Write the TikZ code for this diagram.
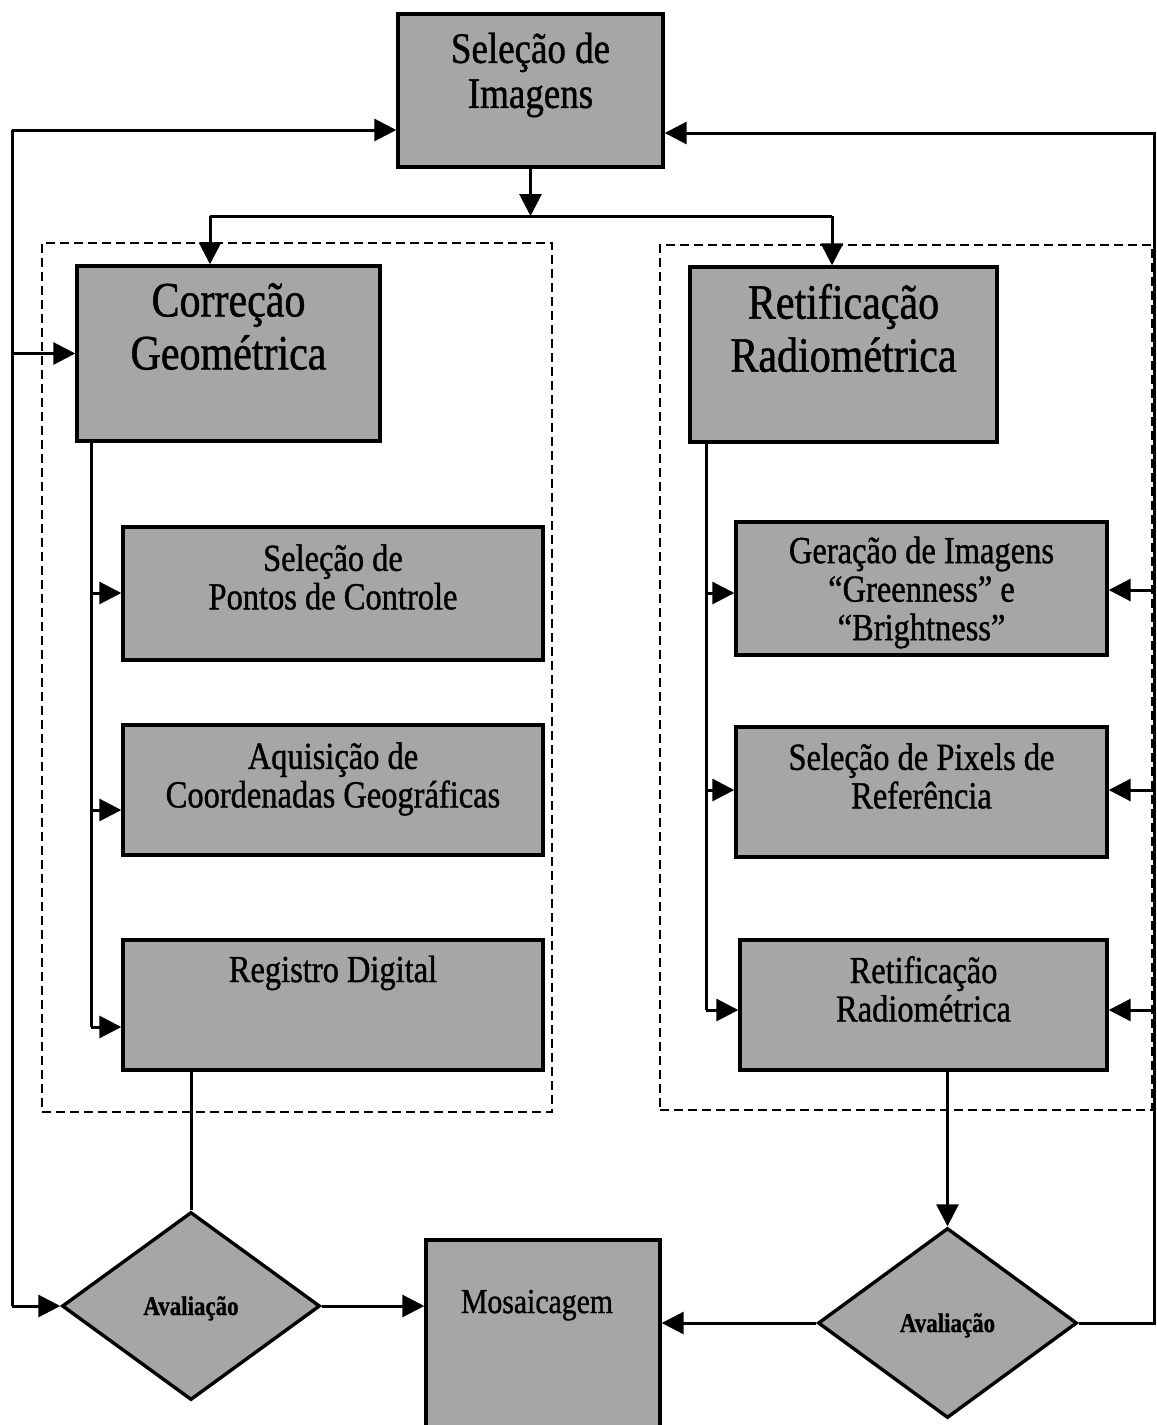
\documentclass[tikz,border=0pt]{standalone}
\usepackage{fontspec}
\setmainfont{Liberation Serif}
\newfontfamily\cond[FakeStretch=0.85,FakeBold=1]{Liberation Serif}
\usetikzlibrary{arrows.meta,shapes.geometric}
\begin{document}
\begin{tikzpicture}[x=1pt,y=-1pt,
  box/.style={draw=black, line width=3.4pt, fill=black!35, inner sep=0pt},
  dia/.style={diamond, draw=black, line width=3.4pt, fill=black!35, inner sep=0pt},
  grp/.style={draw=black, line width=2pt, dash pattern=on 9pt off 5pt, inner sep=0pt},
  conn/.style={line width=3pt},
  arr/.style={line width=3pt, -{Triangle[length=22pt,width=22pt]}},
  big/.style={font=\cond\fontsize{43.5}{45}\selectfont, align=center, inner sep=0pt},
  mid/.style={font=\cond\fontsize{49.4}{53}\selectfont, align=center, inner sep=0pt},
  sub/.style={font=\cond\fontsize{38.2}{38.5}\selectfont, align=center, inner sep=0pt},
  mtext/.style={font=\cond\fontsize{35}{40}\selectfont, inner sep=0pt},
  dtext/.style={font=\cond\fontsize{27}{30}\selectfont\bfseries, inner sep=0pt}
]
\clip (0,0) rectangle (1157,1425);
\fill[white] (0,0) rectangle (1157,1425);

% dashed groups
\node[grp, minimum width=510pt, minimum height=869pt] (gL) at (297,677.5) {};
\node[grp, minimum width=492pt, minimum height=865pt] (gR) at (906,677.5) {};

% coordinates for connectors
\coordinate (L1) at (12,130);
\coordinate (R1) at (1154,133);
\coordinate (J1) at (210,216);
\coordinate (J2) at (832,216);
\coordinate (LC) at (91,441);
\coordinate (la1) at (91,593);
\coordinate (la2) at (91,810);
\coordinate (la3) at (91,1027);
\coordinate (RC) at (706,442);
\coordinate (ra1) at (706,593);
\coordinate (ra2) at (706,790);
\coordinate (ra3) at (706,1010);
\coordinate (fb1) at (1154,590);
\coordinate (fb2) at (1154,790);
\coordinate (fb3) at (1154,1010);

% boxes
\node[box, minimum width=265pt, minimum height=153pt] (top) at (530.5,90.5) {};
\node[box, minimum width=303pt, minimum height=175pt] (cg) at (228.5,353.5) {};
\node[box, minimum width=307pt, minimum height=175pt] (rr) at (843.5,354.5) {};
\node[box, minimum width=420pt, minimum height=133pt] (s1) at (333,593.5) {};
\node[box, minimum width=420pt, minimum height=130pt] (s2) at (333,790) {};
\node[box, minimum width=420pt, minimum height=130pt] (s3) at (333,1005) {};
\node[box, minimum width=371pt, minimum height=133pt] (r1) at (921.5,588.5) {};
\node[box, minimum width=371pt, minimum height=130pt] (r2) at (921.5,792) {};
\node[box, minimum width=367pt, minimum height=130pt] (r3) at (923.5,1005) {};
\node[dia, minimum width=258pt, minimum height=188pt] (ld) at (191,1306) {};
\node[dia, minimum width=259pt, minimum height=190pt] (rd) at (947.5,1323) {};
\node[box, minimum width=234pt, minimum height=200pt] (mos) at (543,1340) {};

% texts
\node[big] (topT) at (530.5,75) {Seleção de\\Imagens};
\node[mid] (cgT) at (228.5,326.5) {Correção\\Geométrica};
\node[mid] (rrT) at (843.5,328) {Retificação\\Radiométrica};
\node[sub] (s1T) at (333,577) {Seleção de\\Pontos de Controle};
\node[sub] (s2T) at (333,779) {Aquisição de\\Coordenadas Geográficas};
\node[sub, anchor=base] (s3T) at (333,982) {Registro Digital};
\node[sub] (r1T) at (921.5,592.5) {Geração de Imagens\\“Greenness” e\\“Brightness”};
\node[sub] (r2T) at (921.5,776) {Seleção de Pixels de\\Referência};
\node[sub] (r3T) at (923.5,989) {Retificação\\Radiométrica};
\node[dtext, anchor=base] (ldT) at (191,1315) {Avaliação};
\node[dtext, anchor=base] (rdT) at (947.5,1332) {Avaliação};
\node[mtext, anchor=base] (mosT) at (537,1313) {Mosaicagem};

% top distribution
\draw[arr] (top.south) -- (top.south |- J1);
\draw[conn] (J1) -- (J2);
\draw[arr] (J1) -- (J1 |- cg.north);
\draw[arr] (J2) -- (J2 |- rr.north);

% left feedback
\draw[conn] (L1) -- (L1 |- ld.west);
\draw[arr] (L1) -- (L1 -| top.west);
\draw[arr] (L1 |- cg.west) -- (cg.west);
\draw[arr] (L1 |- ld.west) -- (ld.west);

% right feedback
\draw[arr] (rd.east) -- (rd.east -| R1) -- (R1) -- (R1 -| top.east);
\draw[arr] (fb1) -- (fb1 -| r1.east);
\draw[arr] (fb2) -- (fb2 -| r2.east);
\draw[arr] (fb3) -- (fb3 -| r3.east);

% left column
\draw[conn] (LC) -- (la3);
\draw[arr] (la1) -- (la1 -| s1.west);
\draw[arr] (la2) -- (la2 -| s2.west);
\draw[arr] (la3) -- (la3 -| s3.west);

% right column
\draw[conn] (RC) -- (ra3);
\draw[arr] (ra1) -- (ra1 -| r1.west);
\draw[arr] (ra2) -- (ra2 -| r2.west);
\draw[arr] (ra3) -- (ra3 -| r3.west);

% to evaluations and mosaic
\draw[conn] (s3.south -| ld.north) -- (ld.north);
\draw[arr] (r3.south -| rd.north) -- (rd.north);
\draw[arr] (ld.east) -- (ld.east -| mos.west);
\draw[arr] (rd.west) -- (rd.west -| mos.east);
\end{tikzpicture}
\end{document}
